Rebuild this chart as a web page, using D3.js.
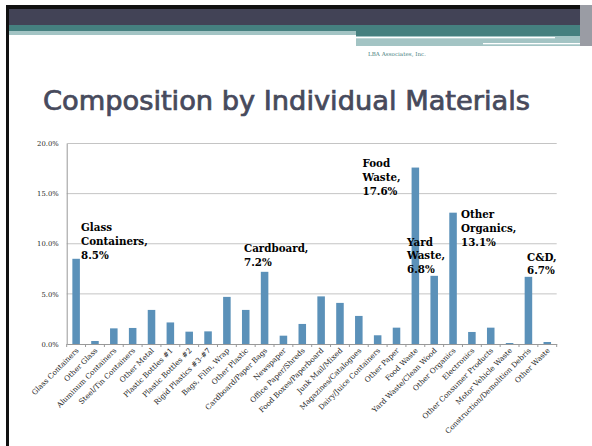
<!DOCTYPE html>
<html><head><meta charset="utf-8">
<script src="https://cdn.jsdelivr.net/npm/d3@7"></script>
<style>html,body{margin:0;padding:0;background:#fff;}svg{display:block;}</style>
</head><body>
<script>
const categories = ["Glass Containers","Other Glass","Aluminum Containers","Steel/Tin Containers","Other Metal","Plastic Bottles #1","Plastic Bottles #2","Rigid Plastics #3-#7","Bags, Film, Wrap","Other Plastic","Cardboard/Paper Bags","Newspaper","Office Paper/Shreds","Food Boxes/Paperboard","Junk Mail/Mixed","Magazines/Catalogues","Dairy/Juice Containers","Other Paper","Food Waste","Yard Waste/Clean Wood","Other Organics","Electronics","Other Consumer Products","Motor Vehicle Waste","Construction/Demolition Debris","Other Waste"];
const values = [8.5,0.3,1.56,1.6,3.4,2.15,1.23,1.26,4.7,3.4,7.2,0.83,2.0,4.75,4.1,2.8,0.87,1.63,17.6,6.8,13.1,1.2,1.63,0.1,6.7,0.2];
const yTicks = [0,5,10,15,20];
const annotations = [
  {cat:"Glass Containers", lines:["Glass","Containers,","8.5%"]},
  {cat:"Cardboard/Paper Bags", lines:["Cardboard,","7.2%"]},
  {cat:"Food Waste", lines:["Food","Waste,","17.6%"]},
  {cat:"Yard Waste/Clean Wood", lines:["Yard","Waste,","6.8%"]},
  {cat:"Other Organics", lines:["Other","Organics,","13.1%"]},
  {cat:"Construction/Demolition Debris", lines:["C&D,","6.7%"]}
];
const annoPos = [[81,231],[244,251.7],[362.5,167],[407,245.5],[461,218],[527,260.5]];

const W=592,H=446;
const svg=d3.select("body").append("svg").attr("width",W).attr("height",H);

// header decoration
svg.append("rect").attr("x",6).attr("y",5).attr("width",W-6).attr("height",4).attr("fill","#111");
svg.append("rect").attr("x",9).attr("y",9).attr("width",W-9).attr("height",16).attr("fill","#424356");
svg.append("rect").attr("x",9).attr("y",25).attr("width",W-9).attr("height",6).attr("fill","#45807f");
svg.append("rect").attr("x",9).attr("y",31).attr("width",347).attr("height",4).attr("fill","#a3c4c4");
svg.append("rect").attr("x",356).attr("y",31).attr("width",224).attr("height",5).attr("fill","#45807f");
svg.append("rect").attr("x",356).attr("y",36).attr("width",224).attr("height",10).attr("fill","#a3c4c4");
svg.append("rect").attr("x",356).attr("y",37).attr("width",199).attr("height",1.3).attr("fill","#fff");
svg.append("rect").attr("x",483).attr("y",43).attr("width",97).attr("height",1.3).attr("fill","#fff");
svg.append("rect").attr("x",580).attr("y",5).attr("width",12).attr("height",41).attr("fill","#9a9ca4");
svg.append("rect").attr("x",6).attr("y",5).attr("width",3).attr("height",H-5).attr("fill","#111");
svg.append("text").attr("x",368).attr("y",55.5).attr("font-family","DejaVu Serif").attr("font-size",5.4)
  .attr("fill","#4a7f80").attr("textLength",58).attr("lengthAdjust","spacingAndGlyphs").text("LBA Associates, Inc.");

// title
svg.append("text").attr("x",43).attr("y",110).attr("font-family","DejaVu Sans Condensed, DejaVu Sans").attr("font-size",27)
  .attr("fill","#474a5c").attr("stroke","#474a5c").attr("stroke-width",0.7)
  .attr("textLength",487).attr("lengthAdjust","spacingAndGlyphs")
  .text("Composition by Individual Materials");

const x0=66.7,x1=556.7,yTop=143.5,yBot=344;
const x=d3.scaleBand().domain(categories).range([x0,x1]).paddingInner(0.6).paddingOuter(0.3);
const y=d3.scaleLinear().domain([0,20]).range([yBot,yTop]);

// gridlines
svg.append("g").selectAll("line").data(yTicks.filter(d=>d>0)).join("line")
  .attr("x1",x0).attr("x2",x1).attr("y1",d=>y(d)).attr("y2",d=>y(d))
  .attr("stroke","#c4c4c4").attr("stroke-width",1);

// y axis
const yAxis=d3.axisLeft(y).tickValues(yTicks).tickFormat(d=>d.toFixed(1)+"%").tickSize(0).tickPadding(8);
const gy=svg.append("g").attr("transform",`translate(${x0},0)`).call(yAxis);
gy.select(".domain").attr("stroke","#999");
gy.selectAll("text").attr("font-family","DejaVu Serif").attr("font-size",6.8).attr("fill","#222");

// bars
svg.append("g").selectAll("rect").data(categories).join("rect")
  .attr("x",d=>x(d)).attr("width",x.bandwidth())
  .attr("y",(d,i)=>y(values[i])).attr("height",(d,i)=>yBot-y(values[i]))
  .attr("fill","#5b91b9");

// x axis
const xAxis=d3.axisBottom(x).tickSize(0).tickFormat("");
const gx=svg.append("g").attr("transform",`translate(0,${yBot})`).call(xAxis);
gx.select(".domain").attr("stroke","#999");
gx.selectAll(".sep").data(d3.range(categories.length+1)).join("line").attr("class","sep")
  .attr("x1",i=>x0+i*(x1-x0)/categories.length).attr("x2",i=>x0+i*(x1-x0)/categories.length)
  .attr("y1",0).attr("y2",3).attr("stroke","#999");
svg.append("g").selectAll("text").data(categories).join("text")
  .attr("transform",d=>`translate(${x(d)+x.bandwidth()/2+3},${yBot+7}) rotate(-45)`)
  .attr("text-anchor","end").attr("font-family","DejaVu Serif").attr("font-size",7.3).attr("fill","#222")
  .text(d=>d);

// annotations
annotations.forEach((a,i)=>{
  const t=svg.append("text").attr("font-family","DejaVu Serif").attr("font-weight","bold")
    .attr("font-size",10.3).attr("fill","#000");
  a.lines.forEach((l,j)=>{
    t.append("tspan").attr("x",annoPos[i][0]).attr("y",annoPos[i][1]+j*13.9).text(l);
  });
});
</script>
</body></html>
